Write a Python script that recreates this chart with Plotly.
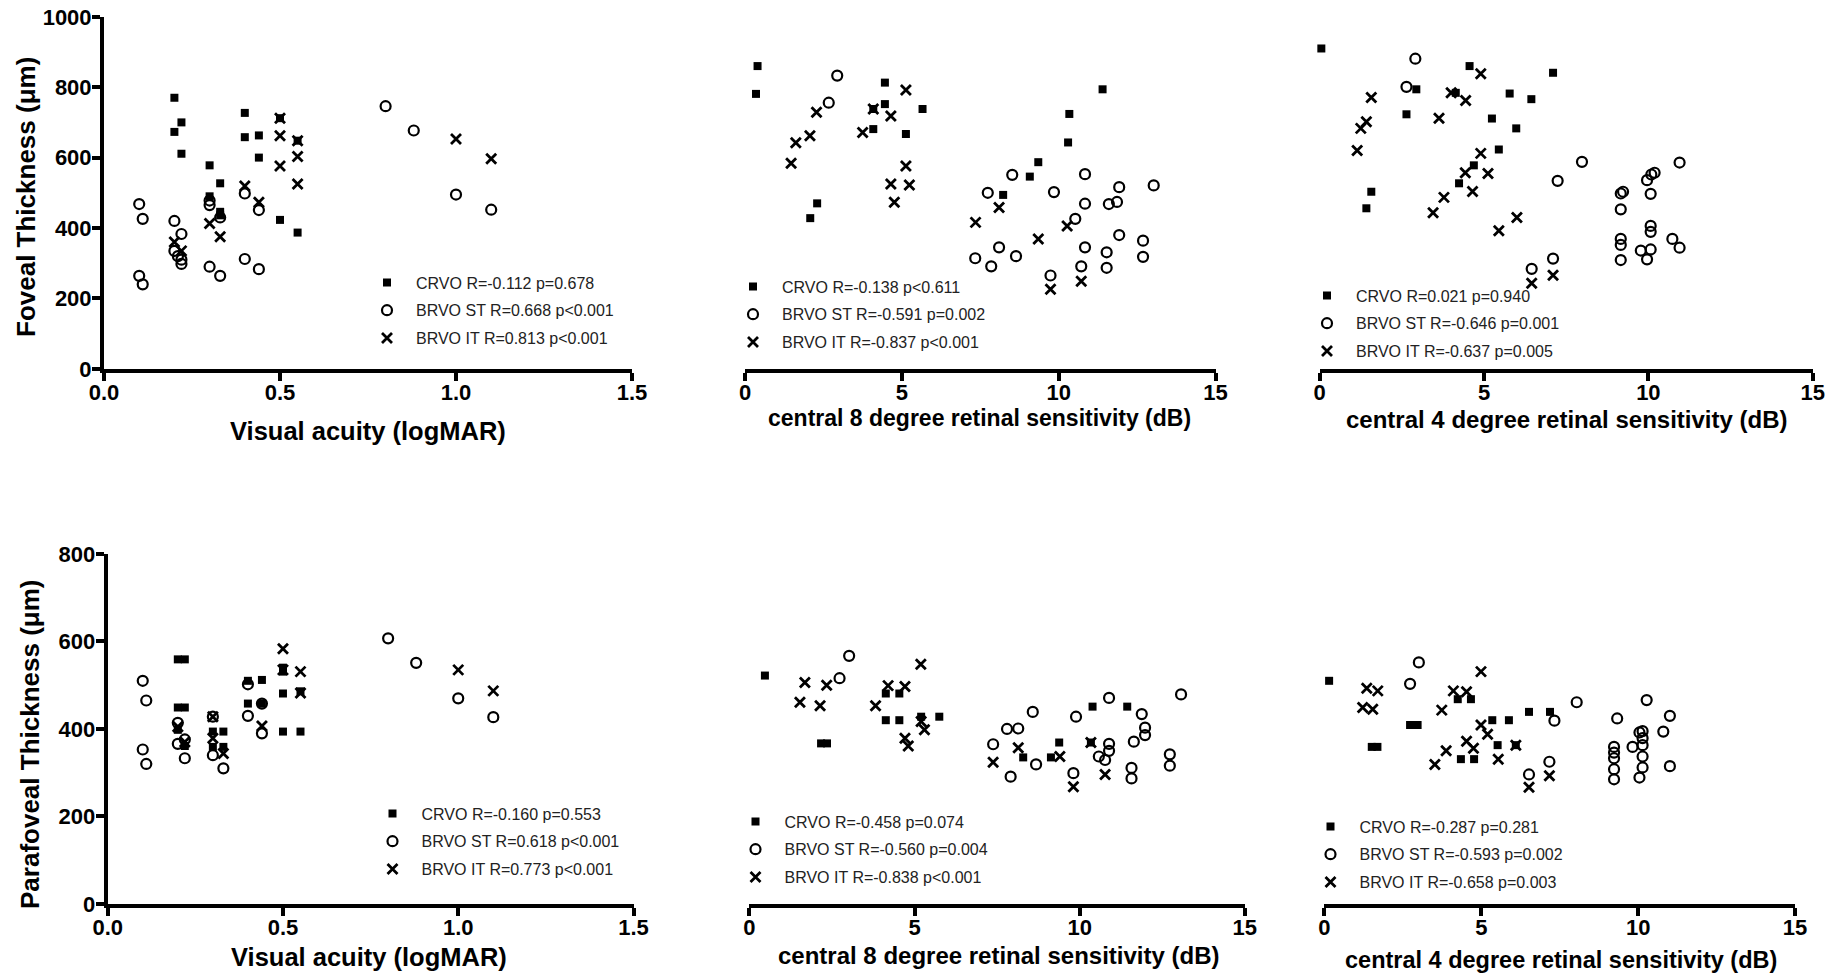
import plotly.graph_objects as go

W, H = 1836, 978

# ---------------- data ----------------
# Foveal thickness vs visual acuity
fov_va_crvo_x = [0.2, 0.22, 0.2, 0.22, 0.3, 0.33, 0.3, 0.33, 0.33, 0.4, 0.4, 0.44, 0.44, 0.5, 0.5, 0.55, 0.55]
fov_va_crvo_y = [770, 700, 673, 611, 578, 527, 490, 446, 436, 727, 658, 663, 600, 712, 423, 648, 387]
fov_va_st_x = [0.1, 0.11, 0.1, 0.11, 0.2, 0.22, 0.2, 0.21, 0.22, 0.22, 0.3, 0.3, 0.33, 0.3, 0.33, 0.4, 0.44, 0.4, 0.44, 0.8, 0.88, 1.0, 1.1]
fov_va_st_y = [468, 426, 264, 240, 420, 383, 335, 320, 310, 298, 478, 465, 430, 290, 264, 498, 451, 312, 283, 746, 677, 495, 452]
fov_va_it_x = [0.2, 0.22, 0.3, 0.33, 0.4, 0.44, 0.5, 0.5, 0.5, 0.55, 0.55, 0.55, 1.0, 1.1]
fov_va_it_y = [360, 335, 413, 375, 519, 473, 712, 662, 576, 648, 603, 525, 653, 597]

# Foveal thickness vs central 8 degree sensitivity
fov_s8_crvo_x = [0.4, 0.35, 2.3, 2.08, 4.46, 4.46, 4.09, 5.66, 4.09, 5.13, 11.4, 10.34, 10.3, 9.35, 9.08, 8.23]
fov_s8_crvo_y = [860, 781, 470, 428, 813, 752, 738, 738, 681, 667, 794, 724, 643, 587, 546, 494]
fov_s8_st_x = [2.94, 2.67, 8.52, 7.74, 9.85, 10.84, 11.93, 13.03, 10.84, 11.6, 11.86, 10.53, 11.93, 12.69, 12.69,
               10.84, 11.53, 11.53, 10.72, 9.74, 8.1, 8.64, 7.34, 7.85]
fov_s8_st_y = [833, 756, 551, 500, 502, 553, 516, 521, 469, 468, 474, 426, 380, 364, 318,
               345, 331, 287, 291, 265, 345, 320, 314, 291]
fov_s8_it_x = [2.28, 2.07, 1.62, 1.47, 5.13, 4.09, 4.65, 3.75, 5.13, 4.65, 5.24, 4.76, 8.1, 7.35, 9.35, 10.27, 10.72, 9.74]
fov_s8_it_y = [729, 662, 642, 584, 792, 738, 718, 671, 576, 525, 522, 473, 458, 416, 369, 406, 249, 226]

# Foveal thickness vs central 4 degree sensitivity
fov_s4_crvo_x = [0.05, 4.56, 7.1, 2.94, 4.14, 5.78, 6.44, 2.64, 5.24, 5.98, 5.45, 4.69, 4.24, 1.57, 1.42]
fov_s4_crvo_y = [910, 860, 841, 794, 784, 782, 766, 723, 711, 683, 623, 578, 527, 503, 456]
fov_s4_st_x = [2.91, 2.64, 7.98, 7.24, 7.1, 6.45, 10.95, 10.19, 10.09, 9.96, 10.07, 9.23, 9.16, 9.16, 10.07, 10.07,
               9.16, 9.16, 9.77, 10.07, 10.73, 10.95, 9.16, 9.96]
fov_s4_st_y = [881, 801, 588, 534, 313, 284, 586, 557, 552, 536, 497, 503, 498, 453, 406, 389,
               369, 352, 336, 339, 369, 344, 309, 311]
fov_s4_it_x = [4.9, 4.0, 4.44, 1.57, 3.63, 1.42, 1.25, 1.14, 4.9, 4.43, 5.12, 4.65, 3.78, 3.45, 6.0, 5.45, 7.1, 6.45]
fov_s4_it_y = [838, 784, 762, 771, 712, 702, 683, 620, 612, 557, 555, 504, 487, 443, 430, 392, 266, 243]

# Parafoveal thickness vs visual acuity
par_va_crvo_x = [0.2, 0.22, 0.2, 0.22, 0.2, 0.22, 0.3, 0.33, 0.3, 0.33, 0.4, 0.44, 0.4, 0.44, 0.5, 0.5, 0.5, 0.5, 0.55, 0.55]
par_va_crvo_y = [559, 559, 449, 449, 398, 361, 394, 394, 359, 359, 510, 512, 458, 458, 540, 481, 394, 531, 486, 394]
par_va_st_x = [0.1, 0.11, 0.1, 0.11, 0.2, 0.22, 0.2, 0.22, 0.3, 0.3, 0.33, 0.4, 0.4, 0.44, 0.44, 0.8, 0.88, 1.0, 1.1]
par_va_st_y = [510, 465, 353, 320, 414, 376, 366, 333, 428, 340, 310, 502, 430, 458, 390, 607, 551, 470, 427]
par_va_it_x = [0.2, 0.22, 0.3, 0.3, 0.33, 0.44, 0.5, 0.5, 0.55, 0.55, 1.0, 1.1]
par_va_it_y = [405, 370, 428, 379, 344, 407, 583, 535, 531, 482, 535, 487]

# Parafoveal thickness vs central 8 degree sensitivity
par_s8_crvo_x = [0.47, 2.17, 2.35, 4.13, 4.54, 4.13, 4.54, 5.2, 5.75, 8.29, 9.38, 9.13, 10.39, 10.34, 11.44]
par_s8_crvo_y = [522, 367, 367, 481, 481, 420, 420, 428, 428, 335, 369, 335, 451, 369, 451]
par_s8_st_x = [3.02, 2.73, 7.38, 7.8, 8.14, 8.58, 7.91, 8.68, 9.89, 9.81, 10.89, 10.89, 10.89, 10.58, 10.77,
               11.88, 11.98, 11.98, 11.64, 11.57, 11.57, 12.73, 12.73, 13.07]
par_s8_st_y = [567, 516, 365, 400, 401, 439, 291, 319, 428, 299, 471, 366, 350, 337, 329,
               434, 403, 386, 371, 311, 287, 342, 316, 479]
par_s8_it_x = [1.68, 2.34, 1.53, 2.14, 5.19, 4.2, 4.71, 3.82, 5.2, 5.3, 4.71, 4.81, 7.38, 8.14, 9.4, 9.81, 10.34, 10.77]
par_s8_it_y = [506, 500, 461, 453, 548, 499, 497, 453, 417, 398, 379, 361, 324, 357, 337, 268, 369, 296]

# Parafoveal thickness vs central 4 degree sensitivity
par_s4_crvo_x = [0.15, 1.51, 1.69, 2.73, 2.97, 4.25, 4.67, 5.35, 5.88, 6.52, 7.19, 5.52, 6.1, 4.35, 4.77]
par_s4_crvo_y = [510, 359, 359, 409, 409, 468, 468, 420, 420, 439, 439, 363, 363, 331, 331]
par_s4_st_x = [3.01, 2.73, 7.33, 8.04, 7.17, 6.52, 9.33, 10.27, 11.01, 10.8, 10.04, 10.14, 10.14, 10.14, 9.82,
               9.23, 9.23, 9.23, 10.14, 10.14, 11.01, 9.23, 9.23, 10.04]
par_s4_st_y = [552, 503, 419, 461, 325, 296, 424, 466, 430, 394, 392, 395, 379, 363, 359,
               359, 346, 333, 337, 312, 315, 308, 285, 289]
par_s4_it_x = [1.35, 1.7, 1.22, 1.54, 4.99, 4.11, 4.53, 3.74, 4.99, 5.2, 4.53, 4.75, 6.1, 3.88, 3.52, 5.54, 7.17, 6.52]
par_s4_it_y = [493, 487, 449, 445, 531, 487, 485, 443, 409, 388, 372, 356, 363, 350, 319, 331, 293, 267]

# legend labels
fov_va_labels = ["CRVO R=-0.112 p=0.678", "BRVO ST R=0.668 p<0.001", "BRVO IT R=0.813 p<0.001"]
fov_s8_labels = ["CRVO R=-0.138 p<0.611", "BRVO ST R=-0.591 p=0.002", "BRVO IT R=-0.837 p<0.001"]
fov_s4_labels = ["CRVO R=0.021 p=0.940", "BRVO ST R=-0.646 p=0.001", "BRVO IT R=-0.637 p=0.005"]
par_va_labels = ["CRVO R=-0.160 p=0.553", "BRVO ST R=0.618 p<0.001", "BRVO IT R=0.773 p<0.001"]
par_s8_labels = ["CRVO R=-0.458 p=0.074", "BRVO ST R=-0.560 p=0.004", "BRVO IT R=-0.838 p<0.001"]
par_s4_labels = ["CRVO R=-0.287 p=0.281", "BRVO ST R=-0.593 p=0.002", "BRVO IT R=-0.658 p=0.003"]

x_titles = ["Visual acuity (logMAR)", "central 8 degree retinal sensitivity (dB)",
            "central 4 degree retinal sensitivity (dB)"] * 2
y_titles = ["Foveal Thickness (μm)", "Parafoveal Thickness (μm)"]
va_ticks = [0.0, 0.5, 1.0, 1.5]
db_ticks = [0, 5, 10, 15]
fov_ticks = [0, 200, 400, 600, 800, 1000]
par_ticks = [0, 200, 400, 600, 800]

panels = [
    (fov_va_crvo_x, fov_va_crvo_y, fov_va_st_x, fov_va_st_y, fov_va_it_x, fov_va_it_y, fov_va_labels),
    (fov_s8_crvo_x, fov_s8_crvo_y, fov_s8_st_x, fov_s8_st_y, fov_s8_it_x, fov_s8_it_y, fov_s8_labels),
    (fov_s4_crvo_x, fov_s4_crvo_y, fov_s4_st_x, fov_s4_st_y, fov_s4_it_x, fov_s4_it_y, fov_s4_labels),
    (par_va_crvo_x, par_va_crvo_y, par_va_st_x, par_va_st_y, par_va_it_x, par_va_it_y, par_va_labels),
    (par_s8_crvo_x, par_s8_crvo_y, par_s8_st_x, par_s8_st_y, par_s8_it_x, par_s8_it_y, par_s8_labels),
    (par_s4_crvo_x, par_s4_crvo_y, par_s4_st_x, par_s4_st_y, par_s4_it_x, par_s4_it_y, par_s4_labels),
]

# ---------------- layout geometry (pixels) ----------------
FONT = "Liberation Sans, Arial, sans-serif"
x_px = [(104, 632), (745, 1215.5), (1319.7, 1812.7), (107.7, 633.5), (749.4, 1244.8), (1324.4, 1795.1)]
y_px = [(16.8, 368.8)] * 3 + [(553.9, 904)] * 3
legend_px = [(416, 282), (782, 286), (1356, 295), (421.5, 813), (784.5, 821), (1359.5, 826)]
xtitle_px = [(368, 431), (979, 418), (1566, 419), (369, 957), (998, 955.5), (1561, 960)]
xtitle_size = [25.5, 23, 24, 25.5, 24, 23.5]
ytitle_px = [(26, 197), (30, 745)]

styles = [
    dict(symbol="square", size=8, color="black", line=dict(width=0)),
    dict(symbol="circle-open", size=10, color="black", line=dict(width=2.2, color="black")),
    dict(symbol="x-thin-open", size=10, color="black", line=dict(width=2.8, color="black")),
]

fig = go.Figure()
layout = dict(
    width=W, height=H, autosize=False,
    margin=dict(l=0, r=0, t=0, b=0, autoexpand=False),
    paper_bgcolor="white", plot_bgcolor="white",
    font=dict(family=FONT, color="black"),
    showlegend=True,
)

for i, p in enumerate(panels):
    k = "" if i == 0 else str(i + 1)
    cx, cy, sx, sy, ix, iy, labels = p
    for j, (xs, ys) in enumerate([(cx, cy), (sx, sy), (ix, iy)]):
        fig.add_trace(go.Scatter(
            x=xs, y=ys, mode="markers", name=labels[j],
            marker=styles[j], xaxis="x" + k, yaxis="y" + k,
            legend="legend" + k, legendgroup=f"g{i}_{j}",
            cliponaxis=False, hoverinfo="x+y",
        ))
    x0, x1 = x_px[i]
    yt, yb = y_px[i]
    is_va = (i % 3 == 0)
    is_fov = i < 3
    layout["xaxis" + k] = dict(
        domain=[x0 / W, x1 / W], anchor="y" + k,
        range=[0, 1.5] if is_va else [0, 15],
        tickvals=va_ticks if is_va else db_ticks,
        tickformat=".1f" if is_va else "d",
        showline=True, linewidth=4, linecolor="black",
        ticks="outside", ticklen=8, tickwidth=4, tickcolor="black",
        ticklabelstandoff=-7,
        showgrid=False, zeroline=False, automargin=False,
        tickfont=dict(family=FONT, size=22, color="black", weight="bold"),
    )
    layout["yaxis" + k] = dict(
        domain=[1 - yb / H, 1 - yt / H], anchor="x" + k,
        range=[0, 1000] if is_fov else [0, 800],
        tickvals=fov_ticks if is_fov else par_ticks,
        showline=is_va, linewidth=4, linecolor="black",
        ticks="outside" if is_va else "", ticklen=8, tickwidth=4, tickcolor="black",
        ticklabelstandoff=-4,
        showticklabels=is_va,
        showgrid=False, zeroline=False, automargin=False,
        tickfont=dict(family=FONT, size=22, color="black", weight="bold"),
    )
    lx, ly = legend_px[i]
    layout["legend" + k] = dict(
        x=(lx - 58) / W, y=1 - (ly - 16.5) / H, xanchor="left", yanchor="top",
        bgcolor="rgba(0,0,0,0)", borderwidth=0,
        traceorder="grouped", tracegroupgap=4, itemwidth=48,
        font=dict(family=FONT, size=16, color="#222"),
    )

annotations = []
for i, t in enumerate(x_titles):
    ax, ay = xtitle_px[i]
    annotations.append(dict(
        text=t, x=ax / W, y=1 - ay / H, xref="paper", yref="paper",
        xanchor="center", yanchor="middle", showarrow=False,
        font=dict(family=FONT, size=xtitle_size[i], color="black", weight="bold"),
    ))
for i, t in enumerate(y_titles):
    ax, ay = ytitle_px[i]
    annotations.append(dict(
        text=t, x=ax / W, y=1 - ay / H, xref="paper", yref="paper",
        xanchor="center", yanchor="middle", showarrow=False, textangle=-90,
        font=dict(family=FONT, size=26, color="black", weight="bold"),
    ))
layout["annotations"] = annotations

fig.update_layout(**layout)
fig.write_html("out.html", config={"displayModeBar": False},
               post_script="document.body.style.margin='0';document.body.style.overflow='hidden';")
